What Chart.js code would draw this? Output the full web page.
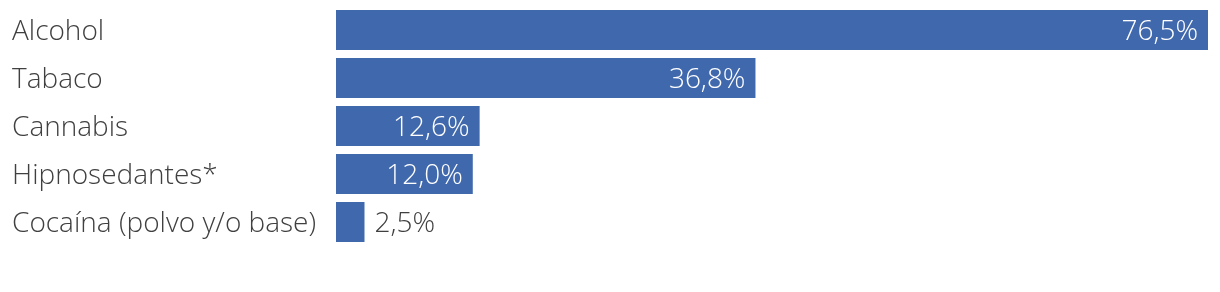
<!DOCTYPE html>
<html>
<head>
<meta charset="utf-8">
<script src="https://cdn.jsdelivr.net/npm/chart.js@4.4.1/dist/chart.umd.min.js"></script>
<style>
html,body{margin:0;padding:0;background:#fff;}
#wrap{width:1220px;height:292px;position:relative;}
</style>
</head>
<body>
<div id="wrap"><canvas id="c"></canvas></div>
<script>
const categories = ["Alcohol", "Tabaco", "Cannabis", "Hipnosedantes*", "Cocaína (polvo y/o base)"];
const values = [76.5, 36.8, 12.6, 12.0, 2.5];
const valueLabels = ["76,5%", "36,8%", "12,6%", "12,0%", "2,5%"];

const FONT = "'Open Sans', sans-serif";

const labelPlugin = {
  id: 'valLabels',
  afterDatasetsDraw(chart) {
    const ctx = chart.ctx;
    const meta = chart.getDatasetMeta(0);
    ctx.save();
    ctx.font = "300 28px " + FONT;
    ctx.textBaseline = 'middle';
    meta.data.forEach((bar, i) => {
      const txt = valueLabels[i];
      const w = ctx.measureText(txt).width;
      const barW = bar.x - bar.base;
      if (barW > w + 20) {
        ctx.fillStyle = '#ffffff';
        ctx.textAlign = 'right';
        ctx.fillText(txt, bar.x - 10, bar.y + 2);
      } else {
        ctx.fillStyle = '#404040';
        ctx.textAlign = 'left';
        ctx.fillText(txt, bar.x + 10, bar.y + 2);
      }
    });
    ctx.restore();
  }
};

new Chart(document.getElementById('c'), {
  type: 'bar',
  data: {
    labels: categories,
    datasets: [{
      data: values,
      backgroundColor: '#4068AD',
      borderWidth: 0,
      barPercentage: 0.83,
      categoryPercentage: 1.0
    }]
  },
  options: {
    indexAxis: 'y',
    responsive: true,
    maintainAspectRatio: false,
    animation: false,
    layout: { padding: { left: 12, right: 12, top: 6, bottom: 46 } },
    plugins: { legend: { display: false }, tooltip: { enabled: false } },
    scales: {
      x: {
        min: 0, max: 76.5,
        display: false,
        grid: { display: false }
      },
      y: {
        grid: { display: false, drawTicks: false },
        border: { display: false },
        ticks: {
          crossAlign: 'far',
          padding: 0,
          labelOffset: 2,
          color: '#404040',
          font: { family: FONT, size: 28, weight: '300' }
        },
        afterFit(scale) { scale.width = 324; scale.paddingTop = 0; scale.paddingBottom = 0; }
      }
    }
  },
  plugins: [labelPlugin]
});
</script>
</body>
</html>
